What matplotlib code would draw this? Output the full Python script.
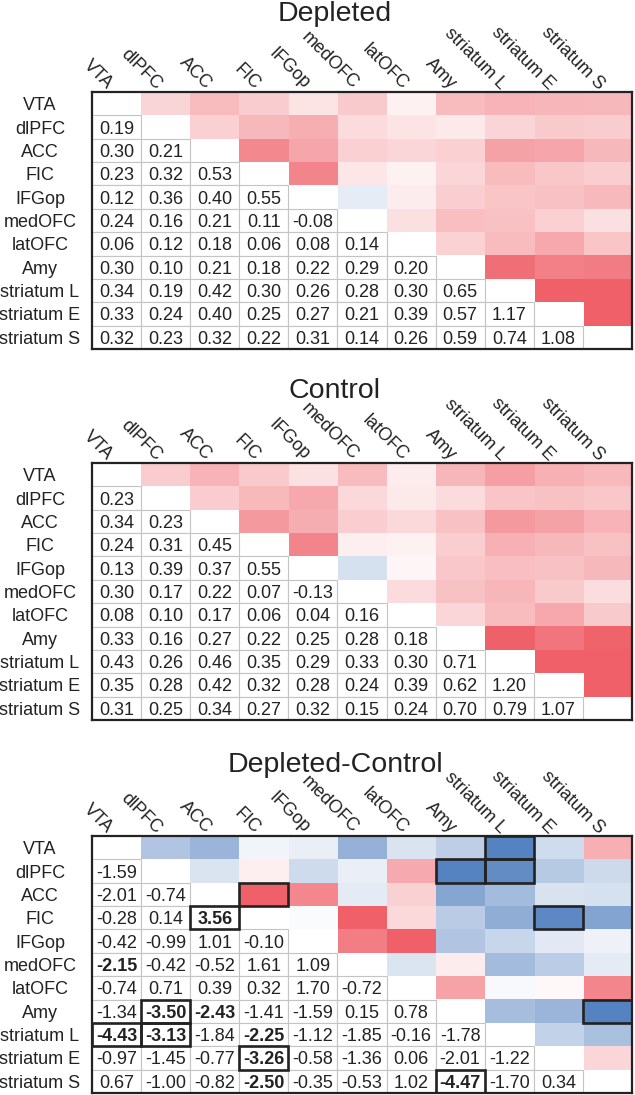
import numpy as np
import matplotlib
matplotlib.use("Agg")
import matplotlib.pyplot as plt
from matplotlib.colors import LinearSegmentedColormap, TwoSlopeNorm
from matplotlib.patches import Rectangle

plt.rcParams['font.family'] = ['Liberation Sans', 'DejaVu Sans']

# ---------------- data ----------------
regions = ["VTA", "dlPFC", "ACC", "FIC", "IFGop", "medOFC", "latOFC",
           "Amy", "striatum L", "striatum E", "striatum S"]

titles = ["Depleted", "Control", "Depleted-Control"]

depleted_rows = [
    [],
    [0.19],
    [0.30, 0.21],
    [0.23, 0.32, 0.53],
    [0.12, 0.36, 0.40, 0.55],
    [0.24, 0.16, 0.21, 0.11, -0.08],
    [0.06, 0.12, 0.18, 0.06, 0.08, 0.14],
    [0.30, 0.10, 0.21, 0.18, 0.22, 0.29, 0.20],
    [0.34, 0.19, 0.42, 0.30, 0.26, 0.28, 0.30, 0.65],
    [0.33, 0.24, 0.40, 0.25, 0.27, 0.21, 0.39, 0.57, 1.17],
    [0.32, 0.23, 0.32, 0.22, 0.31, 0.14, 0.26, 0.59, 0.74, 1.08],
]

control_rows = [
    [],
    [0.23],
    [0.34, 0.23],
    [0.24, 0.31, 0.45],
    [0.13, 0.39, 0.37, 0.55],
    [0.30, 0.17, 0.22, 0.07, -0.13],
    [0.08, 0.10, 0.17, 0.06, 0.04, 0.16],
    [0.33, 0.16, 0.27, 0.22, 0.25, 0.28, 0.18],
    [0.43, 0.26, 0.46, 0.35, 0.29, 0.33, 0.30, 0.71],
    [0.35, 0.28, 0.42, 0.32, 0.28, 0.24, 0.39, 0.62, 1.20],
    [0.31, 0.25, 0.34, 0.27, 0.32, 0.15, 0.24, 0.70, 0.79, 1.07],
]

diff_rows = [
    [],
    [-1.59],
    [-2.01, -0.74],
    [-0.28, 0.14, 3.56],
    [-0.42, -0.99, 1.01, -0.10],
    [-2.15, -0.42, -0.52, 1.61, 1.09],
    [-0.74, 0.71, 0.39, 0.32, 1.70, -0.72],
    [-1.34, -3.50, -2.43, -1.41, -1.59, 0.15, 0.78],
    [-4.43, -3.13, -1.84, -2.25, -1.12, -1.85, -0.16, -1.78],
    [-0.97, -1.45, -0.77, -3.26, -0.58, -1.36, 0.06, -2.01, -1.22],
    [0.67, -1.00, -0.82, -2.50, -0.35, -0.53, 1.02, -4.47, -1.70, 0.34],
]

# (row, col) pairs in the lower triangle
diff_boxed = [(3, 2), (7, 1), (8, 0), (8, 1), (9, 3), (10, 7)]
diff_bold = [(5, 0), (3, 2), (7, 1), (7, 2), (8, 0), (8, 1), (8, 3),
             (9, 3), (10, 3), (10, 7)]

# colour scale limits (negative, positive) per panel
color_limits = [(-0.55, 0.72), (-0.55, 0.72), (-3.45, 1.35)]

# ---------------- layout ----------------
W, H = 635, 1095
left_px, width_px, height_px = 92, 540, 257
tops_px = [92, 463, 836]
title_base_px = [21, 398, 772]
title_x_px = 335

cmap = LinearSegmentedColormap.from_list(
    "bwr_custom", [(0.0, "#5582c0"), (0.5, "#ffffff"), (1.0, "#ef6068")])

fig = plt.figure(figsize=(W / 100, H / 100), dpi=100)

n = len(regions)
cell_w = width_px / n
cell_h = height_px / n
text_color = "#222222"


def full_matrix(rows):
    m = np.full((n, n), np.nan)
    for i, r in enumerate(rows):
        for j, v in enumerate(r):
            m[i, j] = v
            m[j, i] = v
    return m


panels = [
    (depleted_rows, [], []),
    (control_rows, [], []),
    (diff_rows, diff_boxed, diff_bold),
]

for p, (rows, boxed, bold) in enumerate(panels):
    top = tops_px[p]
    ax = fig.add_axes([left_px / W, 1 - (top + height_px) / H,
                       width_px / W, height_px / H])
    mat = full_matrix(rows)
    ii, jj = np.indices(mat.shape)
    upper = np.ma.masked_where(jj <= ii, mat)
    vmin, vmax = color_limits[p]
    norm = TwoSlopeNorm(vmin=vmin, vcenter=0.0, vmax=vmax)
    ax.set_facecolor("white")
    ax.imshow(upper, cmap=cmap, norm=norm, aspect="auto",
              interpolation="nearest")
    ax.set_xlim(-0.5, n - 0.5)
    ax.set_ylim(n - 0.5, -0.5)
    ax.set_xticks([])
    ax.set_yticks([])
    for s in ax.spines.values():
        s.set_linewidth(1.6)
        s.set_color("#222222")
        s.set_zorder(10)

    # lower triangle numbers with light grid
    for i, r in enumerate(rows):
        for j, v in enumerate(r):
            ax.add_patch(Rectangle((j - 0.5, i - 0.5), 1, 1, facecolor="white",
                                   edgecolor="#c4c4c4", linewidth=0.8, zorder=2))
            ax.text(j, i, f"{v:.2f}", ha="center", va="center_baseline",
                    fontsize=13, color=text_color, zorder=4,
                    fontweight="bold" if (i, j) in bold else "normal")

    for (i, j) in boxed:
        for (a, b) in [(i, j), (j, i)]:
            ax.add_patch(Rectangle((b - 0.5, a - 0.5), 1, 1, facecolor="none",
                                   edgecolor="#222222", linewidth=1.9, zorder=6))

    # row labels
    for i, lab in enumerate(regions):
        ax.text(-0.5 - (left_px - 40) / cell_w, i, lab, ha="center",
                va="center_baseline", fontsize=13, color=text_color,
                clip_on=False)
    # column labels
    for j, lab in enumerate(regions):
        ax.text(j - 9.5 / cell_w, -0.5 - 2.0 / cell_h, lab, ha="right",
                va="baseline", rotation=-45, rotation_mode="anchor",
                fontsize=13, color=text_color, clip_on=False)

    fig.text(title_x_px / W, 1 - title_base_px[p] / H, titles[p],
             ha="center", va="baseline", fontsize=20.5, color=text_color)

fig.savefig("out.png", dpi=100, facecolor="white")
